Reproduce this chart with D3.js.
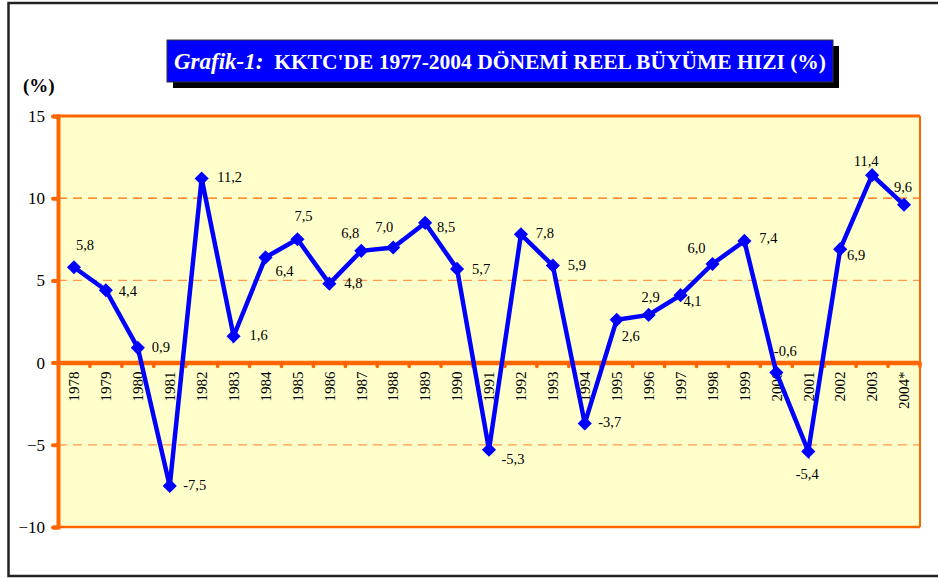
<!DOCTYPE html>
<html>
<head>
<meta charset="utf-8">
<script src="https://cdn.jsdelivr.net/npm/d3@7"></script>
<style>
  body { margin: 0; background: #fff; }
  svg { display: block; font-family: "Liberation Serif", "DejaVu Serif", serif; }
</style>
</head>
<body>
<svg width="938" height="578"></svg>
<script>
// KKTC real growth rate, 1978-2004
const years = ["1978","1979","1980","1981","1982","1983","1984","1985","1986","1987","1988","1989","1990",
  "1991","1992","1993","1994","1995","1996","1997","1998","1999","2000","2001","2002","2003","2004*"];
const growth = [5.8, 4.4, 0.9, -7.5, 11.2, 1.6, 6.4, 7.5, 4.8, 6.8, 7.0, 8.5, 5.7,
  -5.3, 7.8, 5.9, -3.7, 2.6, 2.9, 4.1, 6.0, 7.4, -0.6, -5.4, 6.9, 11.4, 9.6];
const yTicks = [15, 10, 5, 0, -5, -10];
const gridLines = [10, 5, -5];

// where each value label sits relative to its point (dx, dy)
const labelOffsets = [[11,-17],[22,6],[23,4],[25,4],[28,4],[25,4],[19,19],[6,-18],[24,4],[-11,-13],[-9,-16],[21,9],[24,5],
  [24,14],[24,4],[24,4],[25,4],[14,21],[2,-13],[12,11],[-16,-11],[24,2],[9,-16],[-1,28],[16,11],[-6,-9],[-1,-13]];

const svg = d3.select("svg");
const plotL = 58, plotR = 920, plotT = 116, plotB = 527;

const x = d3.scaleBand().domain(years).range([plotL, plotR]);
const y = d3.scaleLinear().domain([-10, 15]).range([plotB, plotT]);

// outer frame
svg.append("rect").attr("x", 8.5).attr("y", 3).attr("width", 960).attr("height", 573)
  .attr("fill", "none").attr("stroke", "#222").attr("stroke-width", 2.5);

// plot background
svg.append("rect").attr("x", plotL).attr("y", plotT).attr("width", plotR - plotL).attr("height", plotB - plotT)
  .attr("fill", "#ffffcc");

// dashed grid lines
svg.selectAll(".grid").data(gridLines).enter().append("line")
  .attr("x1", plotL).attr("x2", plotR)
  .attr("y1", d => y(d)).attr("y2", d => y(d))
  .attr("stroke", d => d === 10 ? "#ff6a00" : "#ff9a4a")
  .attr("stroke-width", 1.2)
  .attr("stroke-dasharray", "9,6");

// plot border
svg.append("line").attr("x1", plotL).attr("x2", plotR).attr("y1", plotT).attr("y2", plotT)
  .attr("stroke", "#ff6600").attr("stroke-width", 3);
svg.append("line").attr("x1", plotR).attr("x2", plotR).attr("y1", plotT).attr("y2", plotB)
  .attr("stroke", "#ff6600").attr("stroke-width", 2);
svg.append("line").attr("x1", plotL).attr("x2", plotR).attr("y1", plotB).attr("y2", plotB)
  .attr("stroke", "#ff6600").attr("stroke-width", 2.5);

// y axis
const yAxis = svg.append("g").attr("transform", `translate(${plotL},0)`)
  .call(d3.axisLeft(y).tickValues(yTicks).tickSize(5).tickPadding(8));
yAxis.attr("font-family", null);
yAxis.select(".domain").attr("stroke", "#ff6600").attr("stroke-width", 4);
yAxis.selectAll(".tick line").attr("stroke", "#ff6600").attr("stroke-width", 4).attr("stroke-linecap", "round");
yAxis.selectAll(".tick text").attr("font-size", 17).attr("fill", "#000");

// zero line with category ticks
const xAxis = svg.append("g").attr("transform", `translate(0,${y(0)})`)
  .call(d3.axisBottom(x).tickSize(0).tickPadding(0));
xAxis.attr("font-family", null);
xAxis.select(".domain").attr("stroke", "#ff6600").attr("stroke-width", 4.5);
xAxis.selectAll(".tick text")
  .attr("transform", "rotate(-90)")
  .attr("text-anchor", "end")
  .attr("x", -9).attr("y", 0).attr("dy", "0.35em")
  .attr("font-size", 15).attr("fill", "#000");
svg.selectAll(".xtick").data(years).enter().append("line")
  .attr("x1", (d, i) => plotL + x.step() * (i + 1)).attr("x2", (d, i) => plotL + x.step() * (i + 1))
  .attr("y1", y(0)).attr("y2", y(0) + 4)
  .attr("stroke", "#ff6600").attr("stroke-width", 3.5).attr("stroke-linecap", "round");

// series line
const cx = (d, i) => x(years[i]) + x.bandwidth() / 2;
const line = d3.line().x(cx).y(d => y(d));
svg.append("path").datum(growth)
  .attr("d", line).attr("fill", "none")
  .attr("stroke", "#0000ff").attr("stroke-width", 4.5).attr("stroke-linejoin", "miter");

svg.selectAll(".marker").data(growth).enter().append("rect")
  .attr("x", -5).attr("y", -5).attr("width", 10).attr("height", 10)
  .attr("fill", "#0000ff")
  .attr("transform", (d, i) => `translate(${cx(d, i)},${y(d)}) rotate(45)`);

// value labels
svg.selectAll(".vlabel").data(growth).enter().append("text")
  .attr("x", (d, i) => cx(d, i) + labelOffsets[i][0])
  .attr("y", (d, i) => y(d) + labelOffsets[i][1])
  .attr("text-anchor", "middle")
  .attr("font-size", 14.5)
  .text(d => d.toFixed(1).replace(".", ","));

// y unit label
svg.append("text").attr("x", 23).attr("y", 92)
  .attr("font-size", 19).attr("font-weight", "bold").text("(%)");

// title box with shadow
svg.append("rect").attr("x", 173).attr("y", 46).attr("width", 666).attr("height", 42).attr("fill", "#000");
svg.append("rect").attr("x", 167).attr("y", 40).attr("width", 666).attr("height", 42)
  .attr("fill", "#0000ff").attr("stroke", "#333").attr("stroke-width", 1);
const title = svg.append("text").attr("x", 500).attr("y", 69)
  .attr("text-anchor", "middle").attr("fill", "#fff")
  .attr("font-weight", "bold").attr("font-size", 21.5);
title.append("tspan").attr("font-style", "italic").attr("font-size", 23).text("Grafik-1:");
title.append("tspan").text("\u00a0 KKTC'DE 1977-2004 DÖNEMİ REEL BÜYÜME HIZI (%)");
</script>
</body>
</html>
